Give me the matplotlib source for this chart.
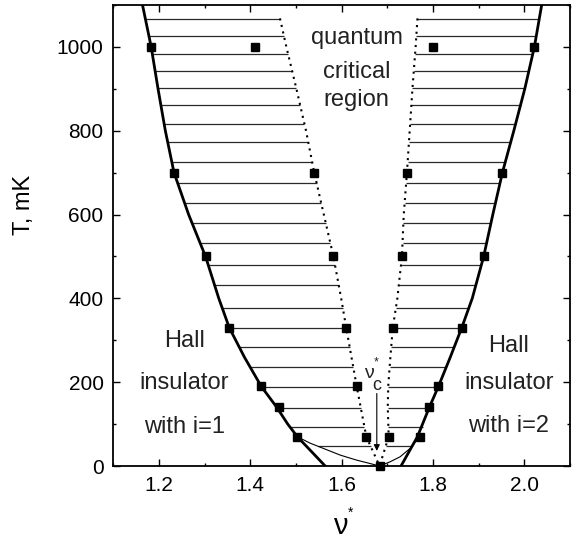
import matplotlib
matplotlib.use("Agg")
import matplotlib.pyplot as plt
import numpy as np

plt.rcParams['font.family'] = ['Liberation Sans', 'DejaVu Sans']

# measured points (nu*, T in mK)
sq_nu = [1.183, 1.410, 1.801, 2.022,
         1.233, 1.540, 1.743, 1.951,
         1.303, 1.582, 1.732, 1.911,
         1.354, 1.610, 1.712, 1.863,
         1.424, 1.633, 1.812,
         1.463, 1.792,
         1.503, 1.654, 1.703, 1.772,
         1.683]
sq_T = [1000, 1000, 1000, 1000,
        700, 700, 700, 700,
        500, 500, 500, 500,
        330, 330, 330, 330,
        190, 190, 190,
        140, 140,
        70, 70, 70, 70,
        0]

# thick boundaries
left_T = [1100, 1000, 900, 800, 700, 600, 500, 400, 330, 260, 190, 140, 100, 70, 0]
left_nu = [1.164, 1.183, 1.198, 1.214, 1.233, 1.265, 1.302, 1.331, 1.354, 1.387, 1.424, 1.458, 1.482, 1.503, 1.564]
right_T = [1100, 1000, 900, 800, 700, 600, 500, 400, 330, 260, 190, 140, 70, 0]
right_nu = [2.038, 2.022, 2.001, 1.977, 1.952, 1.931, 1.911, 1.886, 1.863, 1.838, 1.812, 1.792, 1.766, 1.730]

# thin low-T curves
thinl_T = [70, 55, 42, 26, 14, 6, 0]
thinl_nu = [1.503, 1.530, 1.560, 1.597, 1.633, 1.662, 1.683]
thinr_T = [0, 10, 22, 42, 70]
thinr_nu = [1.683, 1.706, 1.728, 1.750, 1.770]

# dotted boundaries of the critical region
ldot_T = [1068, 1000, 900, 800, 700, 600, 500, 400, 330, 190, 70, 0]
ldot_nu = [1.465, 1.479, 1.501, 1.522, 1.540, 1.561, 1.582, 1.599, 1.610, 1.633, 1.654, 1.683]
rdot_T = [1068, 1000, 900, 800, 700, 600, 500, 400, 330, 250, 190, 140, 70, 0]
rdot_nu = [1.766, 1.762, 1.755, 1.749, 1.743, 1.736, 1.732, 1.722, 1.712, 1.706, 1.702, 1.701, 1.703, 1.683]

# hatch levels
hatch_T = [1067, 1027, 984, 943, 902, 861, 816, 772, 725, 676, 628, 579, 532,
           480, 431, 378, 330, 283, 236, 189, 139, 94, 47]

x_ticks = [1.2, 1.4, 1.6, 1.8, 2.0]
x_labels = ["1.2", "1.4", "1.6", "1.8", "2.0"]
y_ticks = [0, 200, 400, 600, 800, 1000]
y_labels = ["0", "200", "400", "600", "800", "1000"]

fig = plt.figure(figsize=(5.75, 5.42), dpi=100)
ax = fig.add_axes([0.1970, 0.1402, 0.7943, 0.8506])


def rev(a):
    return np.array(a[::-1], dtype=float)


# outer boundaries (thick above 70 mK, thin curve below)
lo_T = np.concatenate([np.array(thinl_T[::-1], float), rev(left_T)[rev(left_T) > 70]])
lo_nu = np.concatenate([np.array(thinl_nu[::-1], float), rev(left_nu)[rev(left_T) > 70]])
ro_T = np.concatenate([np.array(thinr_T, float), rev(right_T)[rev(right_T) > 70]])
ro_nu = np.concatenate([np.array(thinr_nu, float), rev(right_nu)[rev(right_T) > 70]])

h = np.array(hatch_T, float)
ax.hlines(h, np.interp(h, lo_T, lo_nu), np.interp(h, rev(ldot_T), rev(ldot_nu)),
          color='#2a2a2a', lw=0.9)
ax.hlines(h, np.interp(h, rev(rdot_T), rev(rdot_nu)), np.interp(h, ro_T, ro_nu),
          color='#2a2a2a', lw=0.9)

ax.plot(left_nu, left_T, color='black', lw=2.0, solid_joinstyle='round')
ax.plot(right_nu, right_T, color='black', lw=2.0, solid_joinstyle='round')
ax.plot(thinl_nu, thinl_T, color='black', lw=0.8)
ax.plot(thinr_nu, thinr_T, color='black', lw=0.8)
ax.plot(ldot_nu, ldot_T, color='black', lw=1.5, ls=(0, (1, 2.2)))
ax.plot(rdot_nu, rdot_T, color='black', lw=1.5, ls=(0, (1, 2.2)))

ax.plot(sq_nu, sq_T, 's', color='black', ms=6, clip_on=False, zorder=5)

fs = 17
for s, y in zip(["quantum", "critical", "region"], [1006, 925, 859]):
    ax.text(1.633, y, s, ha='center', va='baseline', fontsize=fs, color='#222222')
for s, y in zip(["Hall", "insulator", "with i=1"], [285, 183, 78]):
    ax.text(1.255, y, s, ha='center', va='baseline', fontsize=fs, color='#222222')
for s, y in zip(["Hall", "insulator", "with i=2"], [272, 183, 82]):
    ax.text(1.966, y, s, ha='center', va='baseline', fontsize=fs, color='#222222')

# nu_c^* marker
ax.text(1.659, 220, "ν", ha='center', va='center', fontsize=14, color='#222222')
ax.text(1.676, 191, "c", ha='center', va='center', fontsize=13, color='#222222')
ax.text(1.676, 248, "*", ha='center', va='center', fontsize=9, color='#222222')
ax.annotate("", xy=(1.677, 36), xytext=(1.677, 173),
            arrowprops=dict(arrowstyle='-|>', color='black', lw=0.8,
                            mutation_scale=9, shrinkA=0, shrinkB=0))

ax.set_xlim(1.1, 2.1)
ax.set_ylim(0, 1100)
ax.set_xticks(x_ticks)
ax.set_xticklabels(x_labels)
ax.set_yticks(y_ticks)
ax.set_yticklabels(y_labels)
ax.set_xticks(np.arange(1.1, 2.11, 0.1), minor=True)
ax.set_yticks(np.arange(0, 1101, 100), minor=True)
ax.tick_params(which='both', direction='in', top=True, right=True, width=1.0)
ax.tick_params(which='major', length=5, labelsize=15, pad=7)
ax.tick_params(which='minor', length=2.5)
for sp in ax.spines.values():
    sp.set_linewidth(1.3)

ax.set_ylabel("T, mK", fontsize=17)
ax.yaxis.set_label_coords(-0.172, 0.566)
ax.set_xlabel("ν", fontsize=21)
ax.xaxis.label.set_va('baseline')
ax.xaxis.set_label_coords(0.497, -0.148)
ax.text(0.520, -0.102, "*", transform=ax.transAxes, ha='center', va='center', fontsize=10)

fig.savefig("out.png", dpi=100)
